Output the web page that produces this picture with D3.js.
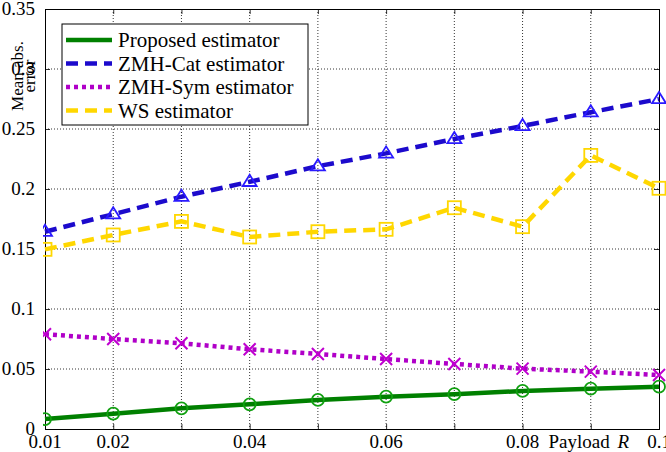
<!DOCTYPE html>
<html>
<head>
<meta charset="utf-8">
<script src="https://cdn.jsdelivr.net/npm/d3@7"></script>
<style>
  body { margin: 0; background: #fff; }
</style>
</head>
<body>
<div id="chart"></div>
<script>
// values
const payload = [0.01, 0.02, 0.03, 0.04, 0.05, 0.06, 0.07, 0.08, 0.09, 0.1];
const proposed = [0.0083, 0.0128, 0.0172, 0.0206, 0.0242, 0.0269, 0.029, 0.0317, 0.0336, 0.0353];
const zmhCat = [0.1644, 0.179, 0.1936, 0.206, 0.219, 0.2297, 0.2417, 0.2525, 0.264, 0.275];
const zmhSym = [0.079, 0.075, 0.0714, 0.0664, 0.0625, 0.0583, 0.0542, 0.0503, 0.0478, 0.045];
const ws = [0.1497, 0.1617, 0.173, 0.16, 0.1644, 0.1664, 0.1844, 0.1686, 0.228, 0.2006];
const xTickLabels = [0.01, 0.02, 0.04, 0.06, 0.08, 0.1];
const yTicks = [0, 0.05, 0.1, 0.15, 0.2, 0.25, 0.3, 0.35];

const FONT = "'Liberation Serif', 'Times New Roman', 'DejaVu Serif', serif";
const W = 666, H = 452;
const margin = { top: 9, left: 45, bottom: 23, right: 7 };
const w = W - margin.left - margin.right,
      h = H - margin.top - margin.bottom;

const series = [
    { name: "Proposed estimator", values: proposed, color: "#008000", marker: "circle", dash: null, width: 4.5, mcolor: "#10a010" },
    { name: "ZMH-Cat estimator", values: zmhCat, color: "#1c0acc", marker: "triangle", dash: "12,7", width: 4.5, mcolor: "#2a1aff" },
    { name: "ZMH-Sym estimator", values: zmhSym, color: "#b000c8", marker: "cross", dash: "4,4", width: 4.5, mcolor: "#c000d0" },
    { name: "WS estimator", values: ws, color: "#ffd700", marker: "square", dash: "12,7", width: 4.5, mcolor: "#ffd700" }
];

const x = d3.scaleLinear().domain([0.01, 0.1]).range([0, w]);
const y = d3.scaleLinear().domain([0, 0.35]).range([h, 0]);

const svg = d3.select("#chart").append("svg")
    .attr("width", W)
    .attr("height", H)
    .style("font-family", FONT);

svg.append("defs").append("clipPath").attr("id", "clip")
    .append("rect")
    .attr("x", -2).attr("y", -margin.top)
    .attr("width", w + margin.right + 2).attr("height", H);

const g = svg.append("g")
    .attr("transform", "translate(" + margin.left + "," + margin.top + ")");

// grid
g.selectAll(".vgrid")
    .data(payload.slice(1, -1))
    .enter().append("line")
    .attr("x1", d => x(d)).attr("x2", d => x(d))
    .attr("y1", 0).attr("y2", h)
    .attr("stroke", "#000").attr("stroke-width", 0.8)
    .attr("stroke-dasharray", "1,2");

g.selectAll(".hgrid")
    .data(yTicks.slice(1, -1))
    .enter().append("line")
    .attr("y1", d => y(d)).attr("y2", d => y(d))
    .attr("x1", 0).attr("x2", w)
    .attr("stroke", "#000").attr("stroke-width", 0.8)
    .attr("stroke-dasharray", "1,2");

// axes (ticks inward on all sides)
g.append("g").attr("transform", "translate(0," + h + ")")
    .call(d3.axisBottom(x).tickValues(payload).tickSize(-5).tickFormat(""));
g.append("g").call(d3.axisTop(x).tickValues(payload).tickSize(-5).tickFormat(""));
g.append("g").call(d3.axisLeft(y).tickValues(yTicks).tickSize(-5).tickFormat(""));
g.append("g").attr("transform", "translate(" + w + ",0)")
    .call(d3.axisRight(y).tickValues(yTicks).tickSize(-5).tickFormat(""));
g.selectAll(".domain").attr("stroke", "#000").attr("stroke-width", 1);
g.selectAll(".tick line").attr("stroke", "#000").attr("stroke-width", 0.8);

// tick labels
g.selectAll(".xlab")
    .data(xTickLabels)
    .enter().append("text")
    .attr("x", d => x(d))
    .attr("y", h + 19)
    .attr("text-anchor", "middle")
    .style("font-size", "19px")
    .text(d => d3.format("")(d));

g.selectAll(".ylab")
    .data(yTicks)
    .enter().append("text")
    .attr("x", -10)
    .attr("y", d => y(d) + 6)
    .attr("text-anchor", "end")
    .style("font-size", "19px")
    .text(d => d === 0 ? "0" : d3.format("")(d));

// axis labels
const xl = g.append("text")
    .attr("x", x(0.09) - 2)
    .attr("y", h + 19)
    .attr("text-anchor", "middle")
    .style("font-size", "19px");
xl.append("tspan").text("Payload ");
xl.append("tspan").style("font-style", "italic").attr("dx", 3).text("R");

const yl = svg.append("g").attr("transform", "translate(23,76) rotate(-90)");
yl.append("text")
    .attr("x", 0).attr("y", 0)
    .attr("text-anchor", "middle")
    .style("font-size", "17px")
    .text("Mean abs.");
yl.append("text")
    .attr("x", 0).attr("y", 12)
    .attr("text-anchor", "middle")
    .style("font-size", "17px")
    .text("error");

// lines and markers
const line = d3.line()
    .x((d, i) => x(payload[i]))
    .y(d => y(d));

const plot = g.append("g").attr("clip-path", "url(#clip)");

function drawMarker(sel, s, cx, cy) {
    if (s.marker === "circle") {
        sel.append("circle").attr("cx", cx).attr("cy", cy).attr("r", 6)
            .attr("fill", "none").attr("stroke", s.mcolor).attr("stroke-width", 1.8);
    } else if (s.marker === "triangle") {
        const r = 7;
        sel.append("path")
            .attr("d", "M" + cx + "," + (cy - r) + "L" + (cx + r) + "," + (cy + r * 0.6) + "L" + (cx - r) + "," + (cy + r * 0.6) + "Z")
            .attr("fill", "none").attr("stroke", s.mcolor).attr("stroke-width", 1.8);
    } else if (s.marker === "cross") {
        const r = 6;
        sel.append("path")
            .attr("d", "M" + (cx - r) + "," + (cy - r) + "L" + (cx + r) + "," + (cy + r) +
                "M" + (cx - r) + "," + (cy + r) + "L" + (cx + r) + "," + (cy - r))
            .attr("fill", "none").attr("stroke", s.mcolor).attr("stroke-width", 2);
    } else if (s.marker === "square") {
        const r = 6.5;
        sel.append("rect").attr("x", cx - r).attr("y", cy - r)
            .attr("width", 2 * r).attr("height", 2 * r)
            .attr("fill", "none").attr("stroke", s.mcolor).attr("stroke-width", 1.8);
    }
}

// draw in reverse so Proposed is on top
series.slice().reverse().forEach(function(s) {
    plot.append("path")
        .datum(s.values)
        .attr("fill", "none")
        .attr("stroke", s.color)
        .attr("stroke-width", s.width)
        .attr("stroke-dasharray", s.dash)
        .attr("d", line);
    const mg = plot.append("g");
    s.values.forEach(function(v, i) {
        drawMarker(mg, s, x(payload[i]), y(v));
    });
});

// legend
const leg = svg.append("g").attr("transform", "translate(62,24)");
leg.append("rect")
    .attr("width", 246).attr("height", 101)
    .attr("fill", "#fff").attr("stroke", "#000").attr("stroke-width", 1);
series.forEach(function(s, i) {
    const ly = 16 + i * 23.5;
    leg.append("line")
        .attr("x1", 4).attr("x2", 50)
        .attr("y1", ly).attr("y2", ly)
        .attr("stroke", s.color)
        .attr("stroke-width", s.width)
        .attr("stroke-dasharray", s.dash);
    leg.append("text")
        .attr("x", 56).attr("y", ly + 7)
        .style("font-size", "21px")
        .text(s.name);
});
</script>
</body>
</html>
